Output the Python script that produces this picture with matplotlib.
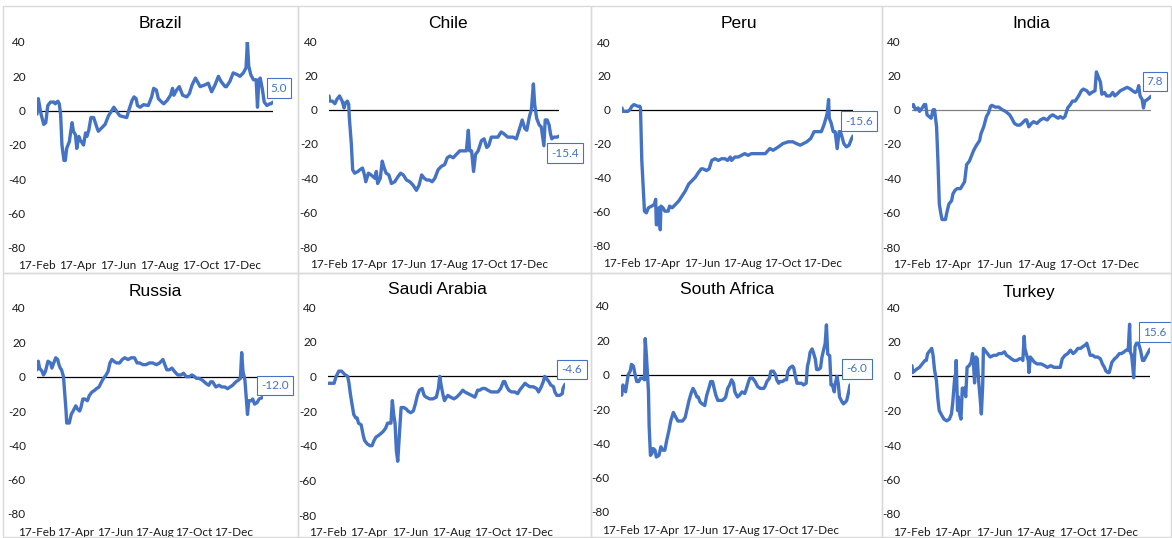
import matplotlib
matplotlib.use("Agg")
import matplotlib.pyplot as plt
import matplotlib.dates as mdates
from matplotlib.patches import Rectangle
import pandas as pd

START = pd.Timestamp("2020-02-17")

countries = ["Brazil", "Chile", "Peru", "India", "Russia", "Saudi Arabia", "South Africa", "Turkey"]
last_labels = ["5.0", "-15.4", "-15.6", "7.8", "-12.0", "-4.6", "-6.0", "15.6"]

brazil_days = [0, 2, 5, 6, 10, 13, 16, 20, 25, 27, 31, 33, 35, 37, 40, 42, 44, 48, 49, 52, 54, 57, 59, 62, 64, 69, 72, 74, 77, 80, 84, 89, 91, 96, 101, 106, 114, 119, 123, 133, 136, 141, 144, 147, 149, 153, 158, 165, 170, 173, 177, 180, 185, 188, 193, 198, 201, 203, 207, 211, 216, 222, 226, 230, 235, 242, 249, 254, 259, 264, 269, 273, 279, 281, 286, 291, 297, 301, 306, 310, 312, 314, 317, 321, 325, 327, 329, 331, 334, 337, 341, 345, 347, 350]
brazil_vals = [-2, 7, 0, -2, -8, -7, 3, 5, 5, 4, 5.5, 4, -2, -20, -29, -29, -22, -18, -15, -7, -12, -14, -22, -15, -17, -20, -13, -15, -11, -4, -4, -10, -12, -10, -8, -3, 2, -1, -3, -4, 0, 6, 8, 7, 3, 2, 3.5, 3, 8, 13, 12, 7, 5, 4, 6, 9, 13, 9, 12, 14, 9, 8, 10, 15, 19, 14, 15, 16, 11, 15, 20, 17, 14, 14, 17, 22, 21, 20, 22, 25, 40, 26, 21, 18, 18, 2, 18, 19, 13, 5, 3, 4, 4, 5]

chile_days = [0, 1, 5, 9, 12, 16, 20, 23, 25, 28, 30, 31, 34, 36, 39, 44, 47, 51, 54, 56, 60, 64, 70, 72, 74, 78, 81, 84, 87, 91, 95, 100, 105, 109, 113, 118, 123, 128, 133, 137, 141, 145, 149, 153, 157, 161, 166, 171, 176, 180, 184, 189, 194, 199, 204, 209, 212, 214, 217, 220, 223, 227, 232, 236, 240, 243, 247, 252, 257, 262, 266, 272, 280, 285, 290, 294, 298, 301, 305, 308, 311, 313, 316, 320, 323, 327, 329, 332, 335, 337, 339, 342, 347, 350]
chile_vals = [8, 5, 5, 3.5, 6, 8, 5, 1, 4, 5, 3, -5, -20, -35, -37, -36, -35, -34, -38, -42, -37, -38, -40, -36, -43, -40, -30, -34, -37, -38, -43, -42, -39, -37, -38, -41, -42, -44, -47, -44, -38, -40, -41, -41, -42, -40, -35, -33, -32, -28, -27, -28, -26, -24, -24, -24, -12, -24, -24, -36, -26, -24, -18, -17, -22, -21, -16, -16, -16, -13, -14, -16, -16, -17, -11, -6, -11, -12, -4, 0, 15, 3, -5, -9, -10, -21, -6, -6, -9, -14, -17, -16, -16, -15.4]

peru_days = [0, 1, 5, 9, 12, 15, 18, 21, 24, 27, 28, 30, 32, 34, 37, 40, 45, 49, 51, 52, 54, 56, 58, 59, 62, 65, 70, 72, 76, 81, 86, 91, 96, 101, 106, 111, 116, 120, 123, 128, 132, 136, 141, 146, 151, 156, 160, 164, 166, 171, 176, 181, 186, 191, 196, 201, 207, 212, 217, 224, 229, 237, 244, 252, 259, 264, 270, 275, 280, 286, 291, 297, 302, 306, 309, 311, 313, 314, 317, 320, 323, 326, 329, 331, 334, 336, 340, 344, 348, 350]
peru_vals = [1, -1, -1, -1, 0, 2, 3, 2.5, 2, 2, 1, -30, -45, -60, -61, -58, -57, -56, -53, -68, -68, -58, -71, -57, -58, -60, -60, -57, -58, -56, -54, -51, -48, -44, -42, -40, -37, -35, -35, -36, -35, -30, -29, -30, -29, -29, -30, -28, -30, -28, -28, -27, -26, -27, -26, -26, -26, -26, -26, -23, -24, -22, -20, -19, -19, -20, -21, -20, -19, -17, -13, -13, -13, -9, -5, -2, 6, -5, -8, -13, -13, -23, -13, -13, -17, -20, -22, -21, -17, -15.6]

india_days = [0, 2, 5, 9, 11, 15, 18, 20, 22, 25, 28, 31, 33, 36, 38, 40, 42, 44, 49, 51, 54, 58, 60, 63, 66, 71, 74, 77, 80, 84, 87, 90, 94, 99, 101, 105, 109, 112, 115, 117, 122, 127, 132, 137, 140, 143, 146, 150, 154, 158, 161, 166, 168, 171, 175, 178, 183, 188, 193, 198, 202, 206, 210, 214, 217, 221, 224, 228, 232, 235, 239, 244, 248, 251, 256, 260, 263, 268, 270, 272, 276, 278, 282, 285, 290, 294, 297, 300, 305, 310, 315, 320, 323, 327, 330, 332, 334, 337, 339, 341, 345, 348, 350]
india_vals = [2, 3, 0, 1, -1, 1, 3, 3, -3, -4, -5, 0, 0, -10, -30, -55, -60, -64, -64, -60, -55, -53, -49, -47, -46, -46, -44, -42, -32, -30, -27, -24, -21, -18, -14, -10, -4, -2, 2, 2.5, 1.5, 1.5, 0, -1, -2, -3, -5, -8, -9, -9, -8, -6, -6, -10, -8, -7, -8, -6, -5, -6, -4, -3, -4, -5, -4, -5, -4, 1, 3, 5, 5, 8, 11, 12, 11, 9, 10, 11, 22, 20, 16, 9, 10, 8, 8, 10, 8, 9, 11, 12, 13, 12, 11, 10, 11, 14, 8, 6, 1, 5, 6, 7, 7.8]

russia_days = [0, 2, 4, 8, 10, 13, 17, 21, 23, 26, 29, 32, 34, 36, 38, 41, 43, 45, 46, 50, 53, 56, 60, 63, 66, 68, 71, 74, 78, 81, 85, 89, 92, 96, 100, 103, 107, 110, 113, 116, 119, 123, 128, 132, 136, 141, 146, 151, 155, 159, 164, 169, 174, 179, 185, 190, 195, 197, 201, 205, 209, 213, 218, 223, 227, 231, 236, 240, 244, 247, 251, 256, 262, 266, 269, 272, 277, 282, 286, 291, 295, 299, 303, 308, 312, 315, 317, 319, 322, 324, 326, 328, 332, 334, 337, 341, 344, 350]
russia_vals = [4, 9, 5, 3, 1, 3, 9, 8, 5, 8, 11, 10, 7, 5, 4, 0, -10, -20, -27, -27, -22, -20, -17, -19, -20, -18, -13, -13, -14, -11, -9, -8, -7, -6, -3, -1, 1, 3, 8, 10, 9, 8, 8, 10, 11, 10, 11, 11, 8, 8, 7, 7, 8, 8, 7, 8, 10, 8, 4, 4, 5, 3, 1, 1, 2, 0, 0, 1, 0, -1, -1, -2, -4, -5, -3, -3, -6, -5, -6, -6, -7, -6, -5, -3, -2, -1, 14, 3, -2, -12, -22, -14, -14, -13, -16, -15, -13, -12]

saudi_days = [0, 5, 9, 12, 16, 20, 25, 29, 31, 33, 35, 38, 41, 43, 45, 49, 52, 54, 58, 62, 65, 68, 71, 75, 78, 81, 85, 88, 90, 93, 95, 97, 99, 101, 103, 106, 108, 112, 116, 118, 122, 126, 129, 132, 135, 139, 142, 145, 150, 155, 160, 163, 165, 167, 170, 172, 175, 177, 181, 186, 190, 195, 199, 202, 207, 212, 217, 221, 224, 228, 232, 236, 241, 246, 251, 255, 259, 261, 264, 267, 271, 276, 280, 283, 287, 291, 294, 298, 303, 308, 311, 315, 318, 320, 322, 326, 329, 333, 335, 338, 342, 346, 347, 350]
saudi_vals = [-4, -4, -4, 0, 3, 3, 1, 0, -4, -10, -15, -22, -24, -24, -27, -28, -34, -37, -39, -40, -40, -37, -35, -34, -33, -32, -30, -27, -27, -27, -14, -22, -27, -43, -49, -30, -18, -18, -19, -20, -21, -20, -16, -11, -8, -7, -11, -12, -13, -13, -12, -7, 0, -5, -11, -14, -12, -11, -12, -13, -12, -10, -8, -9, -10, -11, -12, -8, -8, -7, -7, -8, -9, -9, -9, -7, -3, -3, -6, -8, -9, -9, -10, -8, -6, -4, -5, -6, -6, -7, -9, -6, -3, 0, -1, -3, -5, -6, -9, -11, -11, -10, -7, -4.6]

safrica_days = [0, 1, 3, 5, 7, 9, 11, 14, 16, 19, 21, 24, 27, 30, 33, 36, 37, 39, 42, 43, 45, 47, 49, 52, 54, 58, 61, 64, 67, 70, 73, 76, 80, 84, 87, 90, 94, 98, 101, 104, 107, 110, 113, 116, 118, 121, 124, 128, 131, 135, 137, 140, 143, 145, 148, 152, 155, 158, 160, 163, 166, 169, 172, 174, 178, 181, 185, 189, 191, 195, 197, 201, 205, 209, 213, 218, 220, 223, 227, 229, 233, 236, 238, 241, 243, 247, 250, 253, 255, 258, 262, 264, 266, 269, 271, 276, 279, 283, 285, 287, 289, 292, 294, 297, 299, 302, 305, 307, 310, 312, 314, 316, 319, 321, 323, 326, 327, 330, 332, 334, 338, 340, 343, 345, 348, 350]
safrica_vals = [-10, -12, -6, -8, -10, -5, 0, 2, 6, 5, 1, -4, -4, -2, -2, -3, 21, 10, -10, -30, -47, -46, -43, -44, -48, -47, -42, -44, -44, -38, -33, -27, -22, -25, -27, -27, -27, -25, -20, -15, -11, -8, -10, -13, -13, -16, -17, -18, -12, -7, -4, -4, -9, -12, -15, -15, -15, -14, -13, -8, -6, -3, -5, -10, -13, -12, -10, -11, -9, -4, -2, -2, -4, -7, -8, -8, -7, -4, -2, 2, 2, 0, -3, -5, -4, -4, -3, -3, 2, 4, 5, 4, 0, -5, -5, -5, -6, -5, 5, 8, 13, 15, 13, 9, 3, 3, 4, 10, 15, 18, 29, 12, 11, -6, -6, -10, -6, -1, -5, -13, -16, -17, -16, -15, -10, -6]

turkey_days = [0, 1, 4, 7, 11, 15, 19, 21, 23, 27, 29, 31, 33, 36, 38, 40, 44, 47, 51, 55, 58, 60, 62, 63, 64, 65, 67, 68, 70, 72, 74, 75, 77, 79, 81, 84, 87, 89, 90, 92, 94, 96, 98, 100, 102, 104, 105, 107, 111, 115, 120, 124, 128, 132, 136, 139, 143, 146, 150, 154, 158, 161, 163, 165, 166, 168, 171, 172, 174, 176, 180, 184, 190, 195, 199, 204, 209, 214, 218, 221, 225, 229, 233, 237, 240, 244, 248, 251, 255, 257, 260, 262, 266, 269, 273, 277, 280, 283, 285, 288, 290, 292, 294, 298, 301, 305, 308, 312, 315, 318, 320, 321, 323, 325, 326, 328, 330, 333, 336, 339, 341, 345, 350]
turkey_vals = [6, 2, 3, 4, 5, 7, 9, 9, 13, 15, 16, 12, 4, -3, -13, -20, -23, -25, -26, -25, -22, -15, -5, 0, -5, 9, -20, -12, -22, -25, -7, -8, -7, -12, 5, 6, 8, 13, 10, -4, 11, 10, -3, -12, -22, -5, 16, 15, 13, 11, 12, 12, 13, 13, 14, 12, 11, 10, 9, 9, 10, 10, 9, 23, 16, 13, 9, 2, 11, 10, 8, 7, 7, 6, 5, 6, 5, 5, 5, 10, 12, 13, 15, 13, 14, 16, 16, 17, 18, 19, 15, 12, 12, 11, 11, 10, 7, 5, 3, 2, 2, 5, 8, 10, 11, 13, 13, 14, 15, 15, 30, 14, 12, 4, -1, 17, 19, 19, 15, 9, 9, 12, 15.6]

all_days = [brazil_days, chile_days, peru_days, india_days, russia_days, saudi_days, safrica_days, turkey_days]
all_vals = [brazil_vals, chile_vals, peru_vals, india_vals, russia_vals, saudi_vals, safrica_vals, turkey_vals]

y_ticks = [-80, -60, -40, -20, 0, 20, 40]
x_tick_dates = ["2020-02-17", "2020-04-17", "2020-06-17", "2020-08-17", "2020-10-17", "2020-12-17"]

# ---- layout (pixels) ----
W, H = 1172, 538
# plot areas: left (first date), right (last date), top (y=40), bottom (y=-80)
areas = [
    (37, 273, 42, 248), (329, 559, 41, 247), (622, 853, 42, 245), (912, 1151, 41, 247),
    (37, 263, 308, 514), (328, 565, 307, 515), (621, 850, 306, 512), (912, 1150, 307, 514),
]
title_pos = [(160, 24), (448, 24), (739, 24), (1031, 24),
             (155, 292), (437, 290), (727, 290), (1029, 292)]
# label box centre offsets (pixels: dx right, dy up) from last point
label_off = [(6, 14), (6, -17), (6, 15), (4, 15), (12, 12), (7, 15), (7, 16), (5, 17)]
zero_colors = ["black", "black", "black", "#808080", "black", "black", "black", "black"]

panel_cols = [(3, 298), (298, 591), (591, 882), (882, 1171)]
panel_rows = [(6, 273), (273, 537)]

LINE = "#4472C4"
TICK_FONT = ["Lato", "DejaVu Sans"]
TITLE_FONT = ["Liberation Sans", "DejaVu Sans"]

fig = plt.figure(figsize=(W / 100, H / 100), dpi=100)
fig.patch.set_facecolor("white")

for (r0, r1) in panel_rows:
    for (c0, c1) in panel_cols:
        fig.patches.append(Rectangle((c0 / W, 1 - r1 / H), (c1 - c0) / W, (r1 - r0) / H,
                                     transform=fig.transFigure, fill=False,
                                     edgecolor="#d9d9d9", linewidth=1.0))

xt = [pd.Timestamp(d) for d in x_tick_dates]

for i, name in enumerate(countries):
    L, R, T, B = areas[i]
    ax = fig.add_axes([L / W, 1 - B / H, (R - L) / W, (B - T) / H])
    dates = [START + pd.Timedelta(days=d) for d in all_days[i]]
    vals = all_vals[i]
    ax.plot([dates[0], dates[-1]], [0, 0], color=zero_colors[i], linewidth=0.9, zorder=1)
    ax.plot(dates, vals, color=LINE, linewidth=2.4, solid_joinstyle="round",
            solid_capstyle="round", zorder=2)
    ax.set_xlim(dates[0], dates[-1])
    ax.set_ylim(-80, 40)
    ax.set_yticks(y_ticks)
    ax.set_yticklabels([str(v) for v in y_ticks], family=TICK_FONT, fontsize=8.5, color="#1a1a1a")
    ax.set_xticks(xt)
    ax.xaxis.set_major_formatter(mdates.DateFormatter("%d-%b"))
    for lab in ax.get_xticklabels():
        lab.set_family(TICK_FONT)
        lab.set_fontsize(8.5)
        lab.set_color("#1a1a1a")
    ax.tick_params(axis="both", length=0)
    ax.tick_params(axis="y", pad=8)
    ax.tick_params(axis="x", pad=9)
    for s in ax.spines.values():
        s.set_visible(False)
    ax.patch.set_alpha(0)
    tx, ty = title_pos[i]
    fig.text(tx / W, 1 - ty / H, name, ha="center", va="center", fontsize=12.5,
             family=TITLE_FONT, color="black")
    dx, dy = label_off[i]
    ax.annotate(last_labels[i], xy=(dates[-1], vals[-1]), xytext=(dx * 0.72, dy * 0.72),
                textcoords="offset points", ha="center", va="center", fontsize=8.5,
                family=TICK_FONT, color=LINE, annotation_clip=False,
                bbox=dict(boxstyle="square,pad=0.35", facecolor="white", edgecolor=LINE, linewidth=0.8))

fig.savefig("out.png", dpi=100, facecolor="white")
